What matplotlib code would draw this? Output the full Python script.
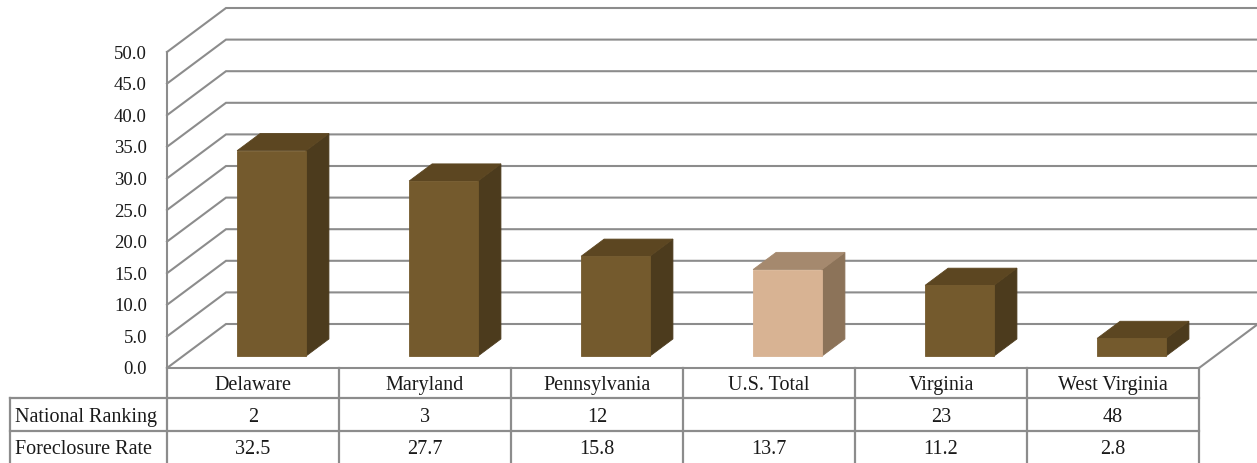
import matplotlib
matplotlib.use("Agg")
import matplotlib.pyplot as plt
from matplotlib.patches import Polygon
import numpy as np

# ---- data ----
categories = ["Delaware", "Maryland", "Pennsylvania", "U.S. Total", "Virginia", "West Virginia"]
foreclosure_rate = [32.5, 27.7, 15.8, 13.7, 11.2, 2.8]
national_ranking = ["2", "3", "12", "", "23", "48"]
row_labels = ["National Ranking", "Foreclosure Rate"]
y_ticks = np.arange(0, 50.1, 5.0)

# ---- styling ----
W, H, DPI = 1257, 464, 100
DEPTH = np.array([59.0, 44.0])          # pixel offset of the back wall
GRID = "#8c8c8c"
FONT = "Liberation Serif"
FS_TICK = 13.5
FS_TABLE = 14.5
TXT = "#1a1a1a"
bar_colors = {
    "normal": ("#745a2d", "#4c3b1d", "#5c4621"),
    "total": ("#d8b393", "#8c7359", "#a5896e"),
}

fig = plt.figure(figsize=(W / DPI, H / DPI), dpi=DPI)
fig.patch.set_facecolor("white")

# front plane of the 3-D box: category units across, rate units up
front = fig.add_axes([167 / W, (H - 369) / H, (1199 - 167) / W, 316 / H])
front.set_xlim(0, len(categories))
front.set_ylim(0, 50)
front.axis("off")

# pixel-space canvas used to draw the projected shapes
canvas = fig.add_axes([0, 0, 1, 1], zorder=2)
canvas.set_xlim(0, W)
canvas.set_ylim(0, H)
canvas.axis("off")
canvas.patch.set_alpha(0)

fig.canvas.draw()


def proj(x, v, d=0.0):
    p = front.transData.transform((x, v))
    return p + d * DEPTH


def line(pts, color=GRID, lw=1.5, z=1):
    pts = np.array(pts)
    canvas.plot(pts[:, 0], pts[:, 1], color=color, lw=lw, zorder=z,
                solid_capstyle="projecting", solid_joinstyle="miter")


n = len(categories)

# walls: side-wall diagonals and back-wall gridlines
for v in y_ticks:
    line([proj(0, v, 0), proj(0, v, 1), proj(n, v, 1)])
    canvas.text(proj(0, v, 0)[0] - 20, proj(0, v, 0)[1] - 1, f"{v:.1f}",
                ha="right", va="center", fontsize=FS_TICK, family=FONT, color=TXT)
# front vertical axis and floor edges
line([proj(0, 50, 0), proj(0, 0, 0), proj(n, 0, 0), proj(n, 0, 1)])

# bars
d1, d2 = 0.27, 0.66
x_off, bw = 0.315, 0.40
for i, (cat, val) in enumerate(zip(categories, foreclosure_rate)):
    fc, sc, tc = bar_colors["total" if cat == "U.S. Total" else "normal"]
    x0, x1 = i + x_off, i + x_off + bw
    front_face = [proj(x0, 0, d1), proj(x1, 0, d1), proj(x1, val, d1), proj(x0, val, d1)]
    side_face = [proj(x1, 0, d1), proj(x1, 0, d2), proj(x1, val, d2), proj(x1, val, d1)]
    top_face = [proj(x0, val, d1), proj(x1, val, d1), proj(x1, val, d2), proj(x0, val, d2)]
    for poly, col in ((side_face, sc), (top_face, tc), (front_face, fc)):
        canvas.add_patch(Polygon(poly, closed=True, facecolor=col, edgecolor=col,
                                 lw=0.6, zorder=5))

# data table
TL = "#8c8c8c"
y_top = proj(0, 0, 0)[1]
row_edges = [y_top, H - 399, H - 432, 0]
left_x = 10
xs = [proj(i, 0, 0)[0] for i in range(n + 1)]
for x in xs:
    line([(x, row_edges[0]), (x, row_edges[-1])], color=TL, lw=1.6, z=3)
line([(left_x, row_edges[1]), (left_x, row_edges[-1])], color=TL, lw=1.6, z=3)
for y in row_edges[1:3]:
    line([(left_x, y), (xs[-1], y)], color=TL, lw=1.6, z=3)

row_mid = [(row_edges[k] + row_edges[k + 1]) / 2 - 2 for k in range(3)]
for i in range(n):
    cx = (xs[i] + xs[i + 1]) / 2
    canvas.text(cx, row_mid[0], categories[i], ha="center", va="center",
                fontsize=FS_TABLE, family=FONT, color=TXT)
    canvas.text(cx, row_mid[1], national_ranking[i], ha="center", va="center",
                fontsize=FS_TABLE, family=FONT, color=TXT)
    canvas.text(cx, row_mid[2], f"{foreclosure_rate[i]:.1f}", ha="center", va="center",
                fontsize=FS_TABLE, family=FONT, color=TXT)
for k, lab in enumerate(row_labels):
    canvas.text(left_x + 5, row_mid[k + 1], lab, ha="left", va="center",
                fontsize=FS_TABLE, family=FONT, color=TXT)

fig.savefig("out.png", dpi=DPI, facecolor="white")
